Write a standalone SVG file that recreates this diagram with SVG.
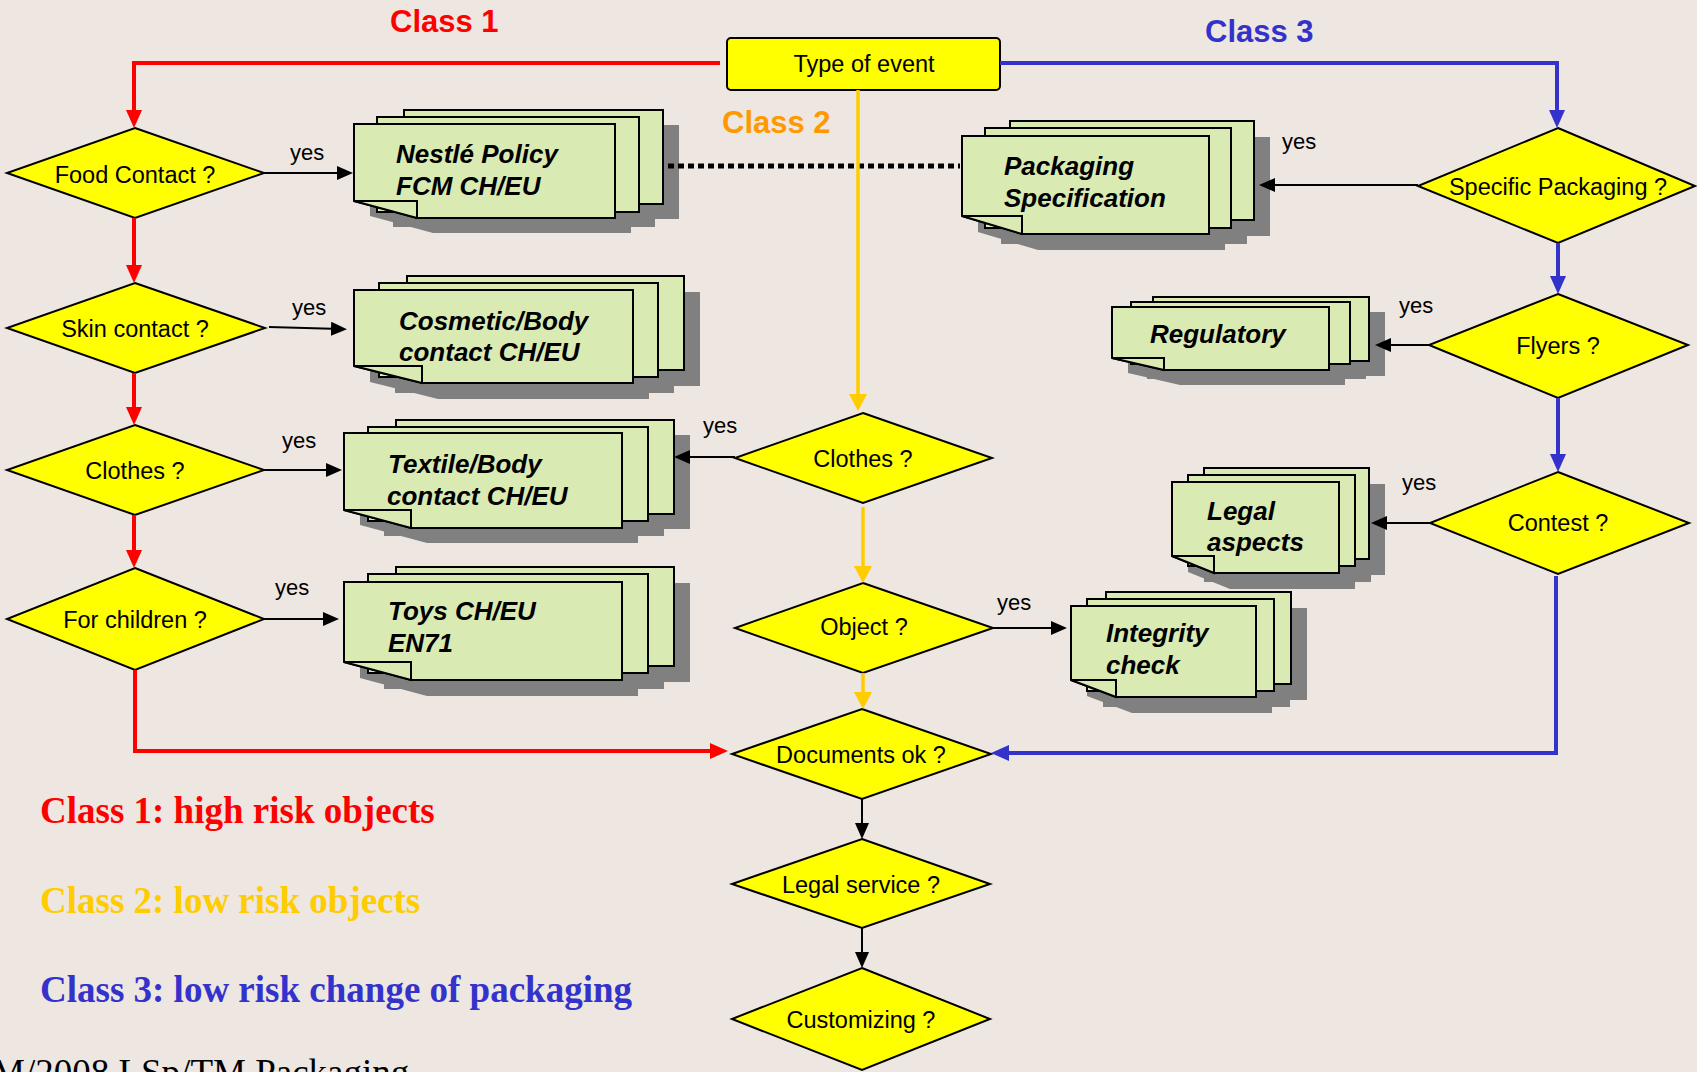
<svg xmlns="http://www.w3.org/2000/svg" width="1697" height="1072" viewBox="0 0 1697 1072">
<style>
.bg{fill:#EEE6E1}
.dia{fill:#FFFF00;stroke:#000;stroke-width:2}
.lbl{font-family:"Liberation Sans",Arial,sans-serif;font-size:23.5px;fill:#000;text-anchor:middle}
.yes{font-family:"Liberation Sans",Arial,sans-serif;font-size:22px;fill:#000}
.doc{font-family:"Liberation Sans",Arial,sans-serif;font-size:26px;font-weight:bold;font-style:italic;fill:#000}
.pg{fill:#D9EAB3;stroke:#000;stroke-width:2;stroke-linejoin:miter}
.sh{fill:#808080;stroke:none}
.cls{font-family:"Liberation Sans",Arial,sans-serif;font-size:31px;font-weight:bold}
.leg{font-family:"Liberation Serif","Times New Roman",serif;font-size:37px;font-weight:bold}
.red{fill:none;stroke:#FF0000;stroke-width:4}
.yel{fill:none;stroke:#FFCC00;stroke-width:3.5}
.blu{fill:none;stroke:#3333CC;stroke-width:4}
.blk{fill:none;stroke:#000;stroke-width:2}
</style>
<defs>
<marker id="mr" viewBox="0 0 18 16" refX="12" refY="8" markerWidth="18" markerHeight="16" orient="auto" markerUnits="userSpaceOnUse"><path d="M0,0 L18,8 L0,16 z" fill="#FF0000"/></marker>
<marker id="my" viewBox="0 0 17 18" refX="11" refY="9" markerWidth="17" markerHeight="18" orient="auto" markerUnits="userSpaceOnUse"><path d="M0,0 L17,9 L0,18 z" fill="#FFCC00"/></marker>
<marker id="mb" viewBox="0 0 18 16" refX="12" refY="8" markerWidth="18" markerHeight="16" orient="auto" markerUnits="userSpaceOnUse"><path d="M0,0 L18,8 L0,16 z" fill="#3333CC"/></marker>
<marker id="mk" viewBox="0 0 16 14" refX="10" refY="7" markerWidth="16" markerHeight="14" orient="auto" markerUnits="userSpaceOnUse"><path d="M0,0 L16,7 L0,14 z" fill="#000"/></marker>
</defs>
<rect class="bg" x="0" y="0" width="1697" height="1072"/>

<text class="cls" x="390" y="32" fill="#FF0000">Class 1</text>
<text class="cls" x="722" y="133" fill="#FF9900">Class 2</text>
<text class="cls" x="1205" y="42" fill="#3333CC">Class 3</text>

<g id="type-of-event">
<rect x="727" y="38" width="273" height="52" rx="4" fill="#FFFF00" stroke="#000" stroke-width="2"/>
<text class="lbl" x="864" y="72">Type of event</text>
</g>

<!-- Document stacks -->
<g id="doc-nestle">
<g class="sh" transform="translate(16,15)">
<rect x="404" y="110" width="259" height="94"/><rect x="377" y="117" width="262" height="95"/><path d="M354,124 H615 V218 H417 L354,201 Z"/>
</g>
<rect class="pg" x="404" y="110" width="259" height="94"/>
<rect class="pg" x="377" y="117" width="262" height="95"/>
<path class="pg" d="M354,124 H615 V218 H417 L354,201 Z"/>
<path class="pg" d="M354,201 H417 V218 Z"/>
<text class="doc" x="396" y="163">Nestlé Policy</text>
<text class="doc" x="396" y="195">FCM CH/EU</text>
</g>

<g id="doc-cosmetic">
<g class="sh" transform="translate(16,16)">
<rect x="407" y="276" width="277" height="94"/><rect x="379" y="283" width="279" height="94"/><path d="M354,290 H633 V383 H422 L354,366 Z"/>
</g>
<rect class="pg" x="407" y="276" width="277" height="94"/>
<rect class="pg" x="379" y="283" width="279" height="94"/>
<path class="pg" d="M354,290 H633 V383 H422 L354,366 Z"/>
<path class="pg" d="M354,366 H422 V383 Z"/>
<text class="doc" x="399" y="330">Cosmetic/Body</text>
<text class="doc" x="399" y="361">contact CH/EU</text>
</g>

<g id="doc-textile">
<g class="sh" transform="translate(16,15)">
<rect x="396" y="420" width="278" height="94"/><rect x="368" y="427" width="280" height="94"/><path d="M344,433 H622 V528 H411 L344,510 Z"/>
</g>
<rect class="pg" x="396" y="420" width="278" height="94"/>
<rect class="pg" x="368" y="427" width="280" height="94"/>
<path class="pg" d="M344,433 H622 V528 H411 L344,510 Z"/>
<path class="pg" d="M344,510 H411 V528 Z"/>
<text class="doc" x="388" y="473">Textile/Body</text>
<text class="doc" x="387" y="505">contact CH/EU</text>
</g>

<g id="doc-toys">
<g class="sh" transform="translate(16,16)">
<rect x="396" y="567" width="278" height="99"/><rect x="368" y="574" width="280" height="99"/><path d="M344,582 H622 V680 H411 L344,662 Z"/>
</g>
<rect class="pg" x="396" y="567" width="278" height="99"/>
<rect class="pg" x="368" y="574" width="280" height="99"/>
<path class="pg" d="M344,582 H622 V680 H411 L344,662 Z"/>
<path class="pg" d="M344,662 H411 V680 Z"/>
<text class="doc" x="388" y="620">Toys CH/EU</text>
<text class="doc" x="388" y="652">EN71</text>
</g>

<g id="doc-packaging">
<g class="sh" transform="translate(16,16)">
<rect x="1010" y="121" width="244" height="99"/><rect x="985" y="128" width="246" height="100"/><path d="M962,136 H1209 V234 H1022 L962,216 Z"/>
</g>
<rect class="pg" x="1010" y="121" width="244" height="99"/>
<rect class="pg" x="985" y="128" width="246" height="100"/>
<path class="pg" d="M962,136 H1209 V234 H1022 L962,216 Z"/>
<path class="pg" d="M962,216 H1022 V234 Z"/>
<text class="doc" x="1004" y="175">Packaging</text>
<text class="doc" x="1004" y="207">Specification</text>
</g>

<g id="doc-regulatory">
<g class="sh" transform="translate(16,15)">
<rect x="1153" y="297" width="216" height="64"/><rect x="1131" y="302" width="219" height="62"/><path d="M1112,307 H1329 V370 H1164 L1112,358 Z"/>
</g>
<rect class="pg" x="1153" y="297" width="216" height="64"/>
<rect class="pg" x="1131" y="302" width="219" height="62"/>
<path class="pg" d="M1112,307 H1329 V370 H1164 L1112,358 Z"/>
<path class="pg" d="M1112,358 H1164 V370 Z"/>
<text class="doc" x="1150" y="343">Regulatory</text>
</g>

<g id="doc-legal">
<g class="sh" transform="translate(16,16)">
<rect x="1204" y="468" width="165" height="91"/><rect x="1188" y="475" width="167" height="91"/><path d="M1172,482 H1339 V573 H1214 L1172,556 Z"/>
</g>
<rect class="pg" x="1204" y="468" width="165" height="91"/>
<rect class="pg" x="1188" y="475" width="167" height="91"/>
<path class="pg" d="M1172,482 H1339 V573 H1214 L1172,556 Z"/>
<path class="pg" d="M1172,556 H1214 V573 Z"/>
<text class="doc" x="1207" y="520">Legal</text>
<text class="doc" x="1207" y="551">aspects</text>
</g>

<g id="doc-integrity">
<g class="sh" transform="translate(16,16)">
<rect x="1106" y="592" width="185" height="92"/><rect x="1087" y="599" width="187" height="92"/><path d="M1071,606 H1256 V697 H1116 L1071,680 Z"/>
</g>
<rect class="pg" x="1106" y="592" width="185" height="92"/>
<rect class="pg" x="1087" y="599" width="187" height="92"/>
<path class="pg" d="M1071,606 H1256 V697 H1116 L1071,680 Z"/>
<path class="pg" d="M1071,680 H1116 V697 Z"/>
<text class="doc" x="1106" y="642">Integrity</text>
<text class="doc" x="1106" y="674">check</text>
</g>

<!-- Decision diamonds -->
<g id="food-contact"><path class="dia" d="M135,128 L264,173 L135,218 L7,173 Z"/><text class="lbl" x="135" y="183">Food Contact ?</text></g>
<g id="skin-contact"><path class="dia" d="M135,283 L265,328 L135,373 L7,328 Z"/><text class="lbl" x="135" y="337">Skin contact ?</text></g>
<g id="clothes-1"><path class="dia" d="M135,425 L264,470 L135,515 L7,470 Z"/><text class="lbl" x="135" y="479">Clothes ?</text></g>
<g id="for-children"><path class="dia" d="M135,568 L264,619 L135,670 L7,619 Z"/><text class="lbl" x="135" y="628">For children ?</text></g>

<g id="clothes-2"><path class="dia" d="M863,413 L992,458 L863,503 L735,458 Z"/><text class="lbl" x="863" y="467">Clothes ?</text></g>
<g id="object"><path class="dia" d="M863,583 L993,628 L863,673 L735,628 Z"/><text class="lbl" x="864" y="635">Object ?</text></g>
<g id="documents-ok"><path class="dia" d="M862,709 L991,754 L862,799 L732,754 Z"/><text class="lbl" x="861" y="763">Documents ok ?</text></g>
<g id="legal-service"><path class="dia" d="M862,839 L990,884 L862,928 L732,884 Z"/><text class="lbl" x="861" y="893">Legal service ?</text></g>
<g id="customizing"><path class="dia" d="M862,968 L990,1019 L862,1070 L732,1019 Z"/><text class="lbl" x="861" y="1028">Customizing ?</text></g>

<g id="specific-packaging"><path class="dia" d="M1558,128 L1695,186 L1558,243 L1418,186 Z"/><text class="lbl" x="1558" y="195">Specific Packaging ?</text></g>
<g id="flyers"><path class="dia" d="M1558,294 L1688,345 L1558,398 L1429,345 Z"/><text class="lbl" x="1558" y="354">Flyers ?</text></g>
<g id="contest"><path class="dia" d="M1558,472 L1689,523 L1558,574 L1430,523 Z"/><text class="lbl" x="1558" y="531">Contest ?</text></g>

<!-- Connectors -->
<g id="connectors">
<path d="M668,166 H960" fill="none" stroke="#000" stroke-width="5" stroke-dasharray="6 4"/>
<path class="red" d="M720,63 H134 V122" marker-end="url(#mr)"/>
<path class="red" d="M134,218 V277" marker-end="url(#mr)"/>
<path class="red" d="M134,373 V419" marker-end="url(#mr)"/>
<path class="red" d="M134,515 V562" marker-end="url(#mr)"/>
<path class="red" d="M135,670 V751 H722" marker-end="url(#mr)"/>
<path class="yel" d="M858,90 V405" marker-end="url(#my)"/>
<path class="yel" d="M863,507 V577" marker-end="url(#my)"/>
<path class="yel" d="M863,673 V703" marker-end="url(#my)"/>
<path class="blu" d="M1000,63 H1557 V122" marker-end="url(#mb)"/>
<path class="blu" d="M1558,243 V288" marker-end="url(#mb)"/>
<path class="blu" d="M1558,398 V466" marker-end="url(#mb)"/>
<path class="blu" d="M1556,576 V753 H997" marker-end="url(#mb)"/>
<path class="blk" d="M264,173 H347" marker-end="url(#mk)"/>
<path class="blk" d="M269,327 L341,329" marker-end="url(#mk)"/>
<path class="blk" d="M264,470 H336" marker-end="url(#mk)"/>
<path class="blk" d="M264,619 H333" marker-end="url(#mk)"/>
<path class="blk" d="M735,457 H680" marker-end="url(#mk)"/>
<path class="blk" d="M993,628 H1061" marker-end="url(#mk)"/>
<path class="blk" d="M1418,185 H1265" marker-end="url(#mk)"/>
<path class="blk" d="M1429,345 H1381" marker-end="url(#mk)"/>
<path class="blk" d="M1430,523 H1377" marker-end="url(#mk)"/>
<path class="blk" d="M862,799 V833" marker-end="url(#mk)"/>
<path class="blk" d="M862,928 V962" marker-end="url(#mk)"/>
<text class="yes" x="290" y="160">yes</text>
<text class="yes" x="292" y="315">yes</text>
<text class="yes" x="282" y="448">yes</text>
<text class="yes" x="275" y="595">yes</text>
<text class="yes" x="703" y="433">yes</text>
<text class="yes" x="997" y="610">yes</text>
<text class="yes" x="1282" y="149">yes</text>
<text class="yes" x="1399" y="313">yes</text>
<text class="yes" x="1402" y="490">yes</text>
</g>

<text class="leg" x="40" y="823" fill="#FF0000">Class 1: high risk objects</text>
<text class="leg" x="40" y="913" fill="#FFCC00">Class 2: low risk objects</text>
<text class="leg" x="40" y="1002" fill="#3333CC">Class 3: low risk change of packaging</text>
<text x="-8" y="1085" font-family="'Liberation Serif','Times New Roman',serif" font-size="37" fill="#000">M/2008 LSp/TM Packaging</text>
</svg>
